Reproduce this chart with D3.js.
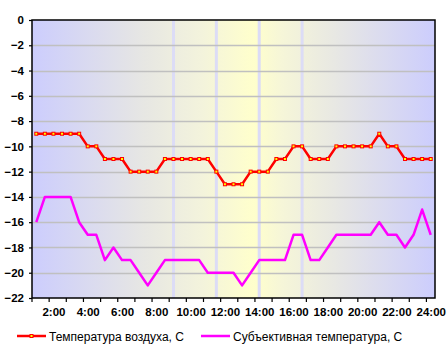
<!DOCTYPE html>
<html>
<head>
<meta charset="utf-8">
<script src="https://cdn.jsdelivr.net/npm/d3@7"></script>
<style>
  body { margin: 0; background: #fff; }
  text { font-family: "Liberation Sans", Arial, sans-serif; }
</style>
</head>
<body>
<div id="chart"></div>
<script>
// half-hourly observations, 1:00 .. 24:00
const times = [
  "1:00","1:30","2:00","2:30","3:00","3:30","4:00","4:30","5:00","5:30",
  "6:00","6:30","7:00","7:30","8:00","8:30","9:00","9:30","10:00","10:30",
  "11:00","11:30","12:00","12:30","13:00","13:30","14:00","14:30","15:00","15:30",
  "16:00","16:30","17:00","17:30","18:00","18:30","19:00","19:30","20:00","20:30",
  "21:00","21:30","22:00","22:30","23:00","23:30","24:00"
];

// Температура воздуха, С
const airTemp = [
  -9, -9, -9, -9, -9, -9, -10, -10, -11, -11,
  -11, -12, -12, -12, -12, -11, -11, -11, -11, -11,
  -11, -12, -13, -13, -13, -12, -12, -12, -11, -11,
  -10, -10, -11, -11, -11, -10, -10, -10, -10, -10,
  -9, -10, -10, -11, -11, -11, -11
];

// Субъективная температура, С
const feltTemp = [
  -16, -14, -14, -14, -14, -16, -17, -17, -19, -18,
  -19, -19, -20, -21, -20, -19, -19, -19, -19, -19,
  -20, -20, -20, -20, -21, -20, -19, -19, -19, -19,
  -17, -17, -19, -19, -18, -17, -17, -17, -17, -17,
  -16, -17, -17, -18, -17, -15, -17
];

const xTickLabels = ["2:00","4:00","6:00","8:00","10:00","12:00","14:00","16:00","18:00","20:00","22:00","24:00"];
const yTicks = [0, -2, -4, -6, -8, -10, -12, -14, -16, -18, -20, -22];
// light vertical bands in the background
const bandTimes = ["9:00", "11:30", "14:00", "16:30"];

const W = 448, H = 353;
const plotL = 32, plotR = 435, plotT = 20, plotB = 298;

const svg = d3.select("#chart").append("svg")
  .attr("width", W)
  .attr("height", H);

const x = d3.scalePoint().domain(times).range([plotL, plotR]).padding(0.5);
const y = d3.scaleLinear().domain([-22, 0]).range([plotB, plotT]);

// background gradient (night - day - night)
const grad = svg.append("defs").append("linearGradient")
  .attr("id", "bg").attr("x1", 0).attr("x2", 1).attr("y1", 0).attr("y2", 0);
[["0%", "#cccdfd"], ["28%", "#e7e7e3"], ["42%", "#f3f3dc"], ["55%", "#ffffcc"],
 ["62%", "#f6f6d8"], ["75%", "#e8e8e3"], ["100%", "#cccdfd"]].forEach(s => {
  grad.append("stop").attr("offset", s[0]).attr("stop-color", s[1]);
});

svg.append("rect")
  .attr("x", plotL).attr("y", plotT)
  .attr("width", plotR - plotL).attr("height", plotB - plotT)
  .attr("fill", "url(#bg)");

svg.selectAll("rect.band")
  .data(bandTimes)
  .enter().append("rect")
  .attr("class", "band")
  .attr("x", d => x(d) - 1.5)
  .attr("y", plotT)
  .attr("width", 3)
  .attr("height", plotB - plotT)
  .attr("fill", "#dcdcf6");

// horizontal grid
svg.selectAll("line.grid")
  .data(yTicks.filter(d => d !== 0 && d !== -22))
  .enter().append("line")
  .attr("class", "grid")
  .attr("x1", plotL).attr("x2", plotR)
  .attr("y1", d => Math.round(y(d)) + 0.5)
  .attr("y2", d => Math.round(y(d)) + 0.5)
  .attr("stroke", "#c0c0c0")
  .attr("stroke-width", 1.5);

// frame
svg.append("rect")
  .attr("x", plotL).attr("y", plotT)
  .attr("width", plotR - plotL).attr("height", plotB - plotT)
  .attr("fill", "none")
  .attr("stroke", "#000")
  .attr("stroke-width", 1.5);

// y axis
const yAxis = svg.append("g")
  .attr("transform", `translate(${plotL},0)`)
  .call(d3.axisLeft(y).tickValues(yTicks).tickSize(3).tickFormat(d3.format("d")));
yAxis.select(".domain").remove();
yAxis.selectAll("line").attr("stroke", "#000").attr("stroke-width", 1.2);
yAxis.selectAll("text")
  .attr("x", -8)
  .attr("font-size", 11.5)
  .attr("font-weight", "bold")
  .attr("fill", "#000");

// x axis: ticks between categories every hour, labels on even hours
const step = x.step();
svg.selectAll("line.xtick")
  .data(times.filter((d, i) => i % 2 === 0))
  .enter().append("line")
  .attr("class", "xtick")
  .attr("x1", d => x(d) - step / 2)
  .attr("x2", d => x(d) - step / 2)
  .attr("y1", plotB)
  .attr("y2", plotB + 4)
  .attr("stroke", "#000")
  .attr("stroke-width", 1.2);

const xAxis = svg.append("g")
  .attr("transform", `translate(0,${plotB})`)
  .call(d3.axisBottom(x).tickValues(xTickLabels).tickSize(0).tickPadding(10));
xAxis.select(".domain").remove();
xAxis.selectAll("text")
  .attr("font-size", 11.5)
  .attr("font-weight", "bold")
  .attr("fill", "#000");

// series
const line = d3.line().x((d, i) => x(times[i])).y(d => y(d));

svg.append("path")
  .datum(feltTemp)
  .attr("d", line)
  .attr("fill", "none")
  .attr("stroke", "#ff00ff")
  .attr("stroke-width", 2.5)
  .attr("stroke-linejoin", "round");

svg.append("path")
  .datum(airTemp)
  .attr("d", line)
  .attr("fill", "none")
  .attr("stroke", "#ff0000")
  .attr("stroke-width", 2.5)
  .attr("stroke-linejoin", "round");

svg.selectAll("rect.mark")
  .data(airTemp)
  .enter().append("rect")
  .attr("class", "mark")
  .attr("x", (d, i) => x(times[i]) - 1.5)
  .attr("y", d => y(d) - 1.5)
  .attr("width", 3)
  .attr("height", 3)
  .attr("fill", "#ffff00")
  .attr("stroke", "#ff0000")
  .attr("stroke-width", 1);

// legend
const legendItems = [
  { label: "Температура воздуха, С", color: "#ff0000", marker: true, x: 17 },
  { label: "Субъективная температура, С", color: "#ff00ff", marker: false, x: 201 }
];
const lg = svg.selectAll("g.legend")
  .data(legendItems)
  .enter().append("g")
  .attr("class", "legend")
  .attr("transform", d => `translate(${d.x},336)`);
lg.append("line")
  .attr("x1", 0).attr("x2", 29)
  .attr("stroke", d => d.color)
  .attr("stroke-width", 2.5);
lg.filter(d => d.marker).append("rect")
  .attr("x", 13).attr("y", -1.5)
  .attr("width", 3).attr("height", 3)
  .attr("fill", "#ffff00")
  .attr("stroke", "#ff0000");
lg.append("text")
  .attr("x", 32)
  .attr("y", 4.5)
  .attr("font-size", 12)
  .attr("fill", "#000")
  .text(d => d.label);
</script>
</body>
</html>
